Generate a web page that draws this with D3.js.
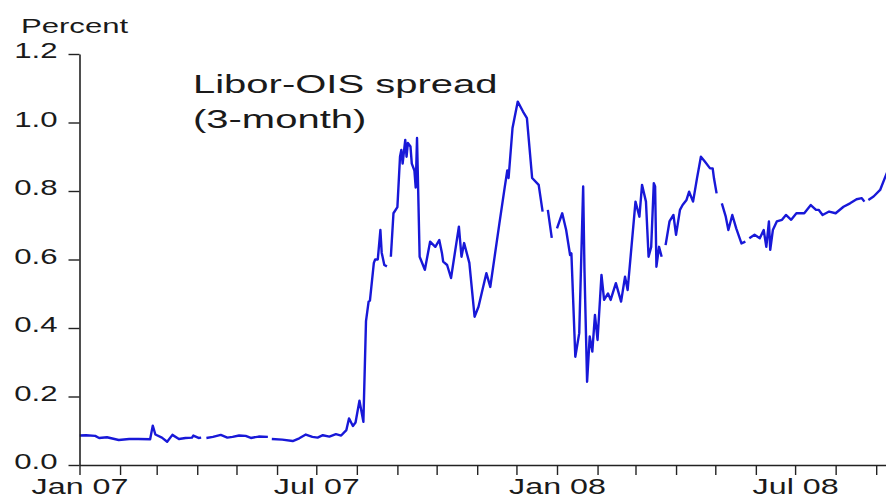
<!DOCTYPE html>
<html>
<head>
<meta charset="utf-8">
<script src="https://cdn.jsdelivr.net/npm/d3@7"></script>
<style>
  html, body { margin: 0; padding: 0; background: #fff; }
  svg { display: block; font-family: "Liberation Sans", Arial, sans-serif; }
</style>
</head>
<body>
<svg id="chart" width="886" height="499"></svg>
<script>
const dates = [
  "2007-01-01","2007-01-06","2007-01-13","2007-01-16","2007-01-22","2007-01-31","2007-02-08","2007-02-15","2007-02-24","2007-02-26","2007-02-28",
  "2007-03-05","2007-03-09","2007-03-13","2007-03-18","2007-03-23","2007-03-28","2007-03-29","2007-04-02","2007-04-04","2007-04-06",
  "2007-04-08","2007-04-13","2007-04-19","2007-04-24","2007-04-28","2007-05-03","2007-05-08","2007-05-12","2007-05-18","2007-05-25","2007-05-26","2007-05-28",
  "2007-06-05","2007-06-13","2007-06-18","2007-06-23","2007-06-28","2007-07-02","2007-07-06","2007-07-11","2007-07-16","2007-07-20","2007-07-24","2007-07-26",
  "2007-07-29","2007-07-31","2007-08-03","2007-08-06","2007-08-08","2007-08-10","2007-08-11","2007-08-14",
  "2007-08-15","2007-08-17","2007-08-19","2007-08-20","2007-08-22","2007-08-24","2007-08-26","2007-08-27",
  "2007-08-29","2007-09-01","2007-09-03","2007-09-04","2007-09-05","2007-09-07","2007-09-08","2007-09-09","2007-09-11","2007-09-12","2007-09-14","2007-09-15",
  "2007-09-16","2007-09-18","2007-09-22","2007-09-26","2007-09-30","2007-10-03","2007-10-05","2007-10-06","2007-10-09",
  "2007-10-12","2007-10-18","2007-10-20","2007-10-22","2007-10-26","2007-10-30","2007-11-02","2007-11-08",
  "2007-11-11","2007-11-18","2007-11-22","2007-11-24","2007-11-25","2007-11-28","2007-12-02","2007-12-06",
  "2007-12-09","2007-12-13","2007-12-18","2007-12-21","2007-12-23","2007-12-25","2007-12-28","2007-12-30",
  "2008-01-01","2008-01-05","2008-01-08","2008-01-11","2008-01-12","2008-01-15","2008-01-18","2008-01-21",
  "2008-01-22","2008-01-24","2008-01-26","2008-01-28","2008-01-30","2008-02-01","2008-02-04","2008-02-06",
  "2008-02-09","2008-02-11","2008-02-15","2008-02-19","2008-02-22","2008-02-24","2008-03-01","2008-03-04",
  "2008-03-06","2008-03-09","2008-03-11","2008-03-13","2008-03-15","2008-03-16","2008-03-17","2008-03-19",
  "2008-03-21","2008-03-22","2008-03-24","2008-03-27","2008-03-30","2008-04-01","2008-04-04","2008-04-06",
  "2008-04-09","2008-04-11","2008-04-14","2008-04-17","2008-04-20","2008-04-23","2008-04-27","2008-04-29",
  "2008-04-30","2008-05-02","2008-05-04","2008-05-06","2008-05-09","2008-05-11","2008-05-14","2008-05-17",
  "2008-05-21","2008-05-24","2008-05-25","2008-05-27","2008-05-31","2008-06-04","2008-06-07","2008-06-09",
  "2008-06-11","2008-06-12","2008-06-14","2008-06-17","2008-06-21","2008-06-24","2008-06-28","2008-07-02",
  "2008-07-08","2008-07-13","2008-07-17","2008-07-19","2008-07-22","2008-07-27","2008-08-01","2008-08-07",
  "2008-08-12","2008-08-17","2008-08-21","2008-08-23","2008-08-24","2008-08-26","2008-08-30","2008-09-04",
  "2008-09-08","2008-09-10"
];
const spread = [
  0.086,0.087,0.085,0.079,0.081,0.073,0.076,0.076,0.075,0.115,0.089,
  0.080,0.068,0.088,0.076,0.079,0.080,0.086,0.079,0.080,null,
  0.079,0.082,0.088,0.080,0.082,0.086,0.085,0.079,0.083,0.082,null,0.076,
  0.074,0.070,0.078,0.089,0.082,0.080,0.087,0.083,0.090,0.086,0.102,0.136,
  0.114,0.124,0.188,0.126,0.420,0.477,0.480,0.590,
  0.600,0.600,0.686,0.620,0.584,0.580,null,0.608,
  0.735,0.753,0.900,0.920,0.880,0.949,0.900,0.940,0.930,0.880,0.860,0.810,
  0.955,0.608,0.570,0.652,0.637,0.657,0.620,0.594,0.584,
  0.546,0.696,0.608,0.648,0.590,0.433,0.462,0.560,
  0.520,0.706,0.810,0.860,0.838,0.984,1.061,1.032,
  1.013,0.838,0.818,0.740,null,0.745,0.663,null,
  0.691,0.735,0.686,0.613,0.618,0.316,0.385,0.813,
  0.570,0.243,0.375,0.331,0.438,0.365,0.555,0.482,
  0.501,0.482,0.531,0.477,0.550,0.511,0.769,0.725,
  0.818,0.769,0.608,0.637,0.823,0.813,0.579,0.637,
  0.608,null,0.642,0.711,0.730,0.672,0.745,0.759,
  0.774,0.798,0.769,0.837,0.900,0.886,0.866,0.866,
  0.837,0.793,null,0.764,0.725,0.686,0.730,0.691,
  0.647,0.652,null,0.662,0.672,0.662,0.686,0.637,
  0.711,0.628,0.686,0.711,0.716,0.730,0.716,0.735,
  0.735,0.759,0.745,0.745,0.730,0.740,0.735,0.754,
  0.764,0.776,0.779,0.769,null,0.774,0.784,0.803,
  0.842,0.860
];
const yTicks = [0.0, 0.2, 0.4, 0.6, 0.8, 1.0, 1.2];
const labeledMonths = ["Jan 07", "Jul 07", "Jan 08", "Jul 08"];
const yAxisTitle = "Percent";
const annotation = ["Libor-OIS spread", "(3-month)"];

const parse = d3.timeParse("%Y-%m-%d");
const data = dates.map((d, i) => ({ date: parse(d), value: spread[i] }));

const svg = d3.select("#chart");
const W = 886, H = 499;
const x0 = 79.5, y0 = 465, yTop = 54;
const pxPerDay = (557 - x0) / 365;

const tStart = parse("2007-01-01");
const tEnd = parse("2008-09-12");
const dayCount = (tEnd - tStart) / 864e5;

const x = d3.scaleTime().domain([tStart, tEnd]).range([x0, x0 + dayCount * pxPerDay]);
const y = d3.scaleLinear().domain([0, 1.2]).range([y0, yTop]);

const SX = 1.45; // horizontal stretch of the original lettering

svg.append("clipPath").attr("id", "clip")
  .append("rect").attr("x", x0).attr("y", 0).attr("width", W - x0).attr("height", y0);

const line = d3.line()
  .defined(d => d.value !== null)
  .x(d => x(d.date))
  .y(d => y(d.value));

svg.append("path")
  .datum(data)
  .attr("clip-path", "url(#clip)")
  .attr("fill", "none")
  .attr("stroke", "#1818d8")
  .attr("stroke-width", 2.4)
  .attr("stroke-linejoin", "round")
  .attr("d", line);

// y axis
const yAxis = d3.axisLeft(y)
  .tickValues(yTicks)
  .tickFormat(d3.format(".1f"))
  .tickSize(11)
  .tickSizeOuter(0);

const gy = svg.append("g").attr("transform", `translate(${x0},0)`).call(yAxis);
gy.select(".domain").attr("stroke", "#222").attr("stroke-width", 1.6);
gy.selectAll(".tick line").attr("stroke", "#222").attr("stroke-width", 1.4);
gy.selectAll(".tick text")
  .attr("x", 0).attr("dy", null).attr("y", 0)
  .attr("transform", `translate(-22,3.5) scale(${SX},1)`)
  .attr("text-anchor", "end")
  .attr("fill", "#1a1a1a")
  .style("font-size", "21.5px");

// x axis
const fmt = d3.timeFormat("%b %y");
const xAxis = d3.axisBottom(x)
  .ticks(d3.timeMonth.every(1))
  .tickFormat(d => {
    const s = fmt(d);
    return labeledMonths.includes(s) ? s : "";
  })
  .tickSize(10)
  .tickSizeOuter(0);

const gx = svg.append("g").attr("transform", `translate(0,${y0})`).call(xAxis);
gx.select(".domain").attr("stroke", "#222").attr("stroke-width", 1.6);
gx.selectAll(".tick line").attr("stroke", "#222").attr("stroke-width", 1.4);
gx.selectAll(".tick text")
  .attr("y", 0).attr("dy", null)
  .attr("transform", `translate(0,29) scale(1.5,1)`)
  .attr("text-anchor", "middle")
  .attr("fill", "#1a1a1a")
  .style("font-size", "21.5px");

// axis title
svg.append("text")
  .attr("transform", `translate(21,33) scale(1.48,1)`)
  .attr("fill", "#1a1a1a")
  .style("font-size", "21px")
  .text(yAxisTitle);

// annotation
svg.append("text")
  .attr("transform", `translate(193,93) scale(1.6,1)`)
  .attr("fill", "#1a1a1a")
  .style("font-size", "25px")
  .text(annotation[0]);
svg.append("text")
  .attr("transform", `translate(193,128) scale(1.6,1)`)
  .attr("fill", "#1a1a1a")
  .style("font-size", "25px")
  .text(annotation[1]);
</script>
</body>
</html>
